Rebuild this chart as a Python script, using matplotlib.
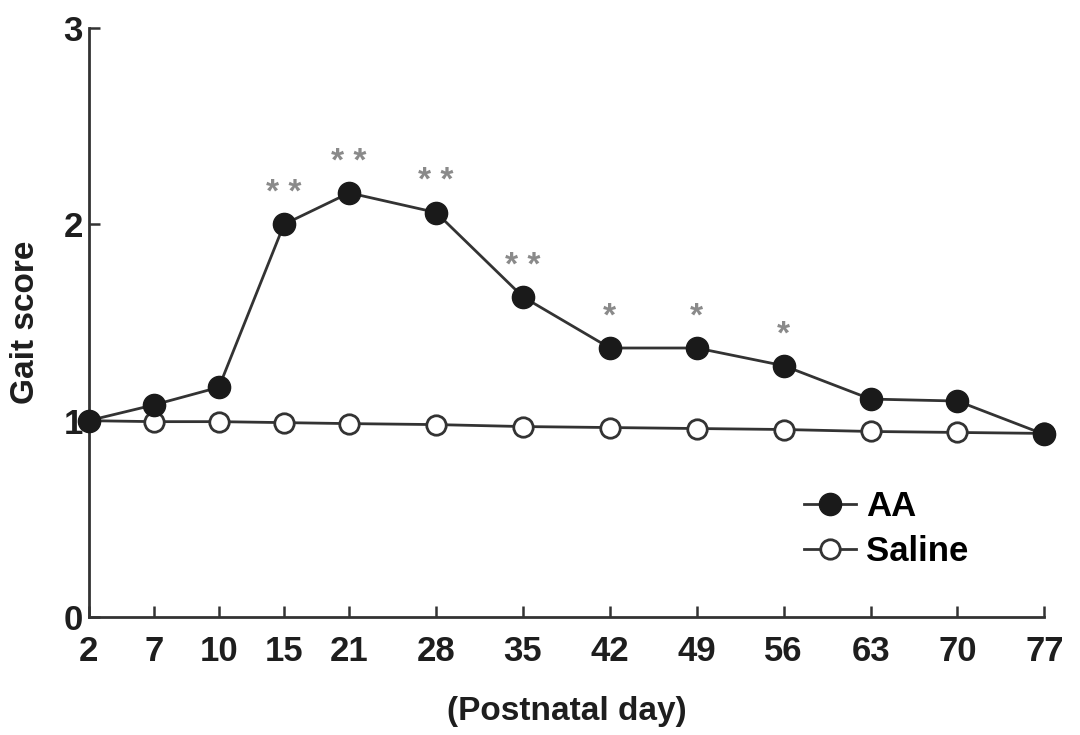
import numpy as np
import matplotlib
matplotlib.use("Agg")
import matplotlib.pyplot as plt

# postnatal days and gait scores
days = [2, 7, 10, 15, 21, 28, 35, 42, 49, 56, 63, 70, 77]
aa_score = [1.0, 1.08, 1.17, 2.0, 2.16, 2.06, 1.63, 1.37, 1.37, 1.28, 1.11, 1.10, 0.93]
saline_score = [1.0, 0.995, 0.995, 0.99, 0.985, 0.98, 0.97, 0.965, 0.96, 0.955, 0.945, 0.94, 0.935]
signif = ["", "", "", "* *", "* *", "* *", "* *", "*", "*", "*", "", "", ""]

# the early days are drawn closer together than the weekly ones
slots = [0, 0.75, 1.5, 2.25, 3, 4, 5, 6, 7, 8, 9, 10, 11]


def fwd(x):
    return np.interp(x, days, slots)


def inv(x):
    return np.interp(x, slots, days)


plt.rcParams['font.family'] = ['Liberation Sans', 'DejaVu Sans']
plt.rcParams['font.weight'] = 'bold'
plt.rcParams['axes.labelweight'] = 'bold'

fig = plt.figure(figsize=(10.8, 7.35), dpi=100)
ax = fig.add_axes([0.082, 0.1605, 0.885, 0.8015])
ax.set_xscale('function', functions=(fwd, inv))

line_col = '#333333'
txt_col = '#1e1e1e'
ax.plot(days, saline_score, color=line_col, lw=2, marker='o', ms=14,
        mfc='white', mec=line_col, mew=2, clip_on=False, zorder=3, label='Saline')
ax.plot(days, aa_score, color=line_col, lw=2, marker='o', ms=16,
        mfc='#1a1a1a', mec='#1a1a1a', clip_on=False, zorder=4, label='AA')

for d, s, star in zip(days, aa_score, signif):
    if star:
        ax.annotate(star, (d, s), xytext=(0, 11), textcoords='offset points',
                    ha='center', va='bottom', fontsize=24, color='#8a8a8a')

ax.set_xlim(2, 77)
ax.set_ylim(0, 3)
ax.set_xticks(days)
ax.set_xticklabels([str(d) for d in days])
ax.set_yticks([0, 1, 2, 3])

for s in ['top', 'right']:
    ax.spines[s].set_visible(False)
for s in ['left', 'bottom']:
    ax.spines[s].set_linewidth(2)
    ax.spines[s].set_color(line_col)

ax.tick_params(axis='both', direction='in', length=8, width=1.8, color=line_col,
               labelsize=25, labelcolor=txt_col)
ax.tick_params(axis='x', pad=13)
ax.tick_params(axis='y', pad=4)

ax.set_ylabel('Gait score', fontsize=24, color=txt_col, labelpad=16)
ax.set_xlabel('(Postnatal day)', fontsize=24, color=txt_col, labelpad=20)

handles, labels = ax.get_legend_handles_labels()
ax.legend(handles[::-1], labels[::-1], loc='upper left', bbox_to_anchor=(0.73, 0.245),
          frameon=False, fontsize=25, handlelength=1.5, handletextpad=0.3,
          labelspacing=0.35, borderpad=0)

fig.savefig('out.png', dpi=100)
